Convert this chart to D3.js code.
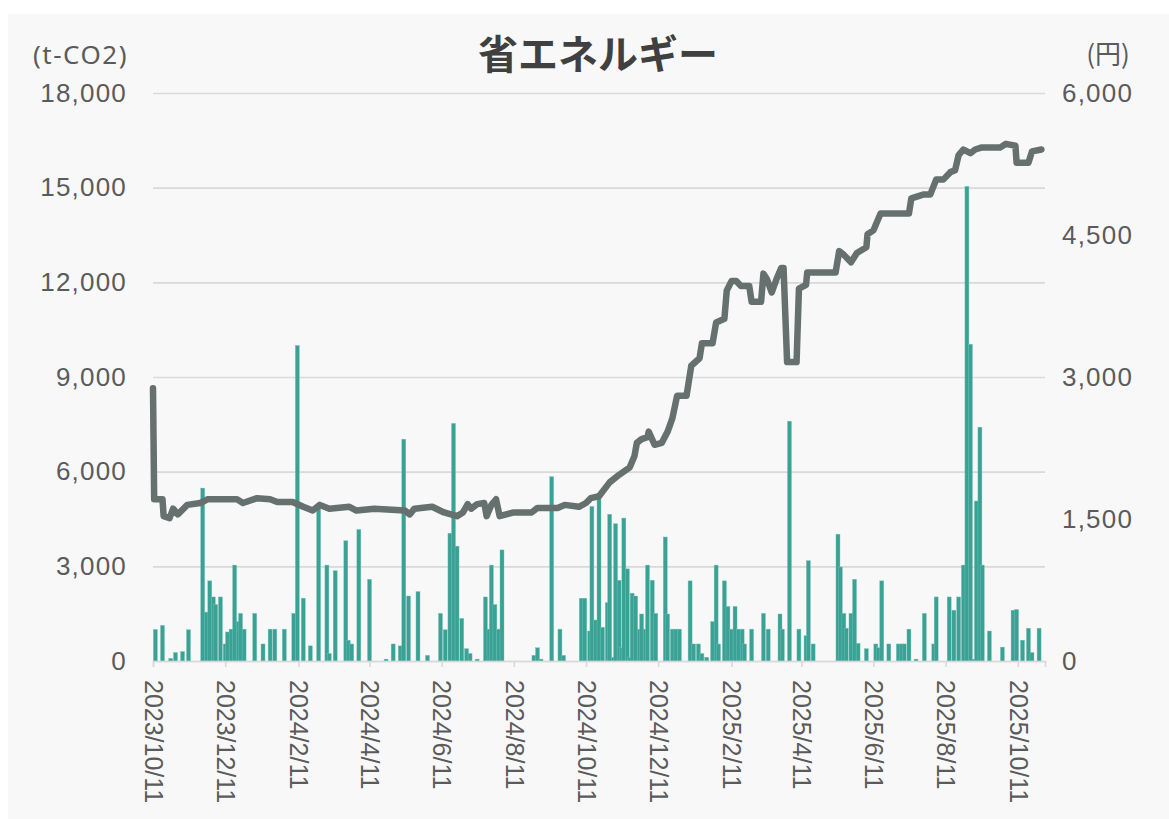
<!DOCTYPE html>
<html>
<head>
<meta charset="utf-8">
<script src="https://cdn.jsdelivr.net/npm/d3@7"></script>
<style>
  body { margin: 0; background: #ffffff; }
  .tick text { fill: #5b5b5b; }
</style>
</head>
<body>
<div class="chart"></div>
<script>
// 省エネルギー chart: daily volume bars (t-CO2, left) + price line (円, right)

var svgWidth = 1169;
var svgHeight = 819;

var margin = { top: 93, right: 124, bottom: 158, left: 153 };
var width = svgWidth - margin.left - margin.right;
var height = svgHeight - margin.top - margin.bottom;

// bar series: dates and volumes (t-CO2)
var barDates = [
  "2023-10-13", "2023-10-19", "2023-10-26", "2023-10-30", "2023-11-05", "2023-11-10",
  "2023-11-22", "2023-11-25", "2023-11-28", "2023-12-01", "2023-12-03", "2023-12-07",
  "2023-12-11", "2023-12-13", "2023-12-16", "2023-12-19", "2023-12-22", "2023-12-24",
  "2023-12-27", "2024-01-05", "2024-01-12", "2024-01-18", "2024-01-22", "2024-01-30",
  "2024-02-07", "2024-02-10", "2024-02-15", "2024-02-21", "2024-02-28", "2024-03-06",
  "2024-03-08", "2024-03-13", "2024-03-22", "2024-03-24", "2024-03-27", "2024-04-02",
  "2024-04-11", "2024-04-25", "2024-05-01", "2024-05-07", "2024-05-10", "2024-05-14",
  "2024-05-22", "2024-05-30", "2024-06-10", "2024-06-14", "2024-06-18", "2024-06-21",
  "2024-06-24", "2024-06-28", "2024-07-02", "2024-07-05", "2024-07-11", "2024-07-18",
  "2024-07-21", "2024-07-23", "2024-07-26", "2024-07-29", "2024-08-01", "2024-08-28",
  "2024-08-31", "2024-09-03", "2024-09-12", "2024-09-19", "2024-09-22", "2024-10-07",
  "2024-10-10", "2024-10-14", "2024-10-16", "2024-10-19", "2024-10-22", "2024-10-25",
  "2024-10-29", "2024-10-31", "2024-11-03", "2024-11-05", "2024-11-08", "2024-11-10",
  "2024-11-12", "2024-11-15", "2024-11-17", "2024-11-19", "2024-11-22", "2024-11-25",
  "2024-11-27", "2024-11-30", "2024-12-02", "2024-12-06", "2024-12-09", "2024-12-17",
  "2024-12-19", "2024-12-23", "2024-12-26", "2024-12-29", "2025-01-07", "2025-01-10",
  "2025-01-14", "2025-01-17", "2025-01-21", "2025-01-26", "2025-01-29", "2025-01-31",
  "2025-02-05", "2025-02-08", "2025-02-11", "2025-02-14", "2025-02-17", "2025-02-20",
  "2025-02-22", "2025-02-28", "2025-03-10", "2025-03-14", "2025-03-24", "2025-03-26",
  "2025-04-01", "2025-04-09", "2025-04-15", "2025-04-17", "2025-04-21", "2025-05-12",
  "2025-05-14", "2025-05-17", "2025-05-19", "2025-05-23", "2025-05-26", "2025-05-29",
  "2025-06-05", "2025-06-13", "2025-06-15", "2025-06-18", "2025-06-24", "2025-07-02",
  "2025-07-05", "2025-07-07", "2025-07-11", "2025-07-17", "2025-07-24", "2025-08-01",
  "2025-08-03", "2025-08-14", "2025-08-18", "2025-08-22", "2025-08-26", "2025-08-29",
  "2025-09-01", "2025-09-04", "2025-09-06", "2025-09-09", "2025-09-11", "2025-09-17",
  "2025-09-28", "2025-10-07", "2025-10-10", "2025-10-15", "2025-10-20", "2025-10-23",
  "2025-10-29"
];
var barValues = [
  1000, 1130, 80, 270, 300, 990,
  5480, 1550, 2540, 2030, 1790, 2030,
  540, 920, 1010, 3040, 1250, 1510,
  1010, 1510, 540, 1010, 1010, 1010,
  1510, 10000, 1990, 480, 4950, 3040,
  240, 2860, 3810, 660, 540, 4170,
  2590, 60, 540, 480, 7030, 2060,
  2200, 180, 1510, 990, 4050, 7530,
  3640, 1350, 390, 240, 60, 2030,
  1010, 3040, 1790, 1010, 3520, 180,
  420, 60, 5840, 1010, 180, 1990,
  1990, 950, 4900, 1300, 5300, 1070,
  1850, 4650, 120, 4350, 2560, 420,
  4530, 2920, 120, 2150, 2060, 1010,
  1490, 1010, 3040, 2560, 1510, 3930,
  1490, 1010, 1010, 1010, 2540, 540,
  540, 240, 120, 1250, 3040, 540,
  2540, 1730, 1010, 1730, 1010, 1010,
  540, 1010, 1510, 1010, 1490, 1010,
  7600, 1010, 800, 3180, 540, 4020,
  2980, 1510, 1040, 1510, 2590, 560,
  390, 540, 420, 2540, 540, 540,
  540, 540, 1010, 60, 1510, 540,
  2030, 2030, 1610, 2030, 3040, 15040,
  10040, 60, 5070, 7410, 3040, 950,
  440, 1610, 1630, 660, 1040, 270,
  1040
];

// line series: dates and price (円)
var lineDates = [
  "2023-10-11", "2023-10-12", "2023-10-19", "2023-10-20", "2023-10-25", "2023-10-28",
  "2023-11-01", "2023-11-09", "2023-11-20", "2023-11-26", "2023-12-21", "2023-12-26",
  "2024-01-07", "2024-01-18", "2024-01-24", "2024-02-06", "2024-02-15", "2024-02-23",
  "2024-02-29", "2024-03-08", "2024-03-25", "2024-03-31", "2024-04-15", "2024-05-11",
  "2024-05-15", "2024-05-19", "2024-06-03", "2024-06-13", "2024-06-24", "2024-06-29",
  "2024-07-03", "2024-07-06", "2024-07-11", "2024-07-17", "2024-07-19", "2024-07-23",
  "2024-07-27", "2024-07-30", "2024-08-11", "2024-08-26", "2024-08-31", "2024-09-17",
  "2024-09-23", "2024-10-05", "2024-10-11", "2024-10-15", "2024-10-22", "2024-10-31",
  "2024-11-08", "2024-11-17", "2024-11-21", "2024-11-23", "2024-11-27", "2024-12-02",
  "2024-12-03", "2024-12-08", "2024-12-14", "2024-12-19", "2024-12-23", "2024-12-27",
  "2025-01-04", "2025-01-08", "2025-01-15", "2025-01-17", "2025-01-26", "2025-01-29",
  "2025-02-05", "2025-02-07", "2025-02-11", "2025-02-15", "2025-02-19", "2025-02-26",
  "2025-02-28", "2025-03-08", "2025-03-10", "2025-03-13", "2025-03-17", "2025-03-21",
  "2025-03-25", "2025-03-27", "2025-03-30", "2025-04-07", "2025-04-09", "2025-04-15",
  "2025-04-16", "2025-05-10", "2025-05-13", "2025-05-17", "2025-05-23", "2025-05-28",
  "2025-06-05", "2025-06-06", "2025-06-11", "2025-06-17", "2025-07-11", "2025-07-13",
  "2025-07-23", "2025-07-29", "2025-08-03", "2025-08-09", "2025-08-15", "2025-08-19",
  "2025-08-22", "2025-08-26", "2025-09-01", "2025-09-05", "2025-09-10", "2025-09-26",
  "2025-10-01", "2025-10-09", "2025-10-10", "2025-10-20", "2025-10-23", "2025-10-31"
];
var lineValues = [
  2880, 1708, 1708, 1530, 1510, 1609,
  1549, 1649, 1669, 1708, 1708, 1669,
  1720, 1708, 1680, 1680, 1629, 1589,
  1649, 1609, 1629, 1589, 1609, 1589,
  1549, 1609, 1629, 1569, 1530, 1569,
  1657, 1609, 1657, 1669, 1530, 1649,
  1708, 1530, 1569, 1569, 1617, 1617,
  1649, 1629, 1669, 1720, 1740, 1887,
  1967, 2046, 2165, 2304, 2344, 2364,
  2423, 2284, 2304, 2423, 2563, 2801,
  2801, 3119, 3198, 3357, 3357, 3576,
  3615, 3913, 4013, 4013, 3961, 3961,
  3794, 3794, 4092, 4032, 3893, 4032,
  4152, 4152, 3158, 3158, 3933, 3973,
  4104, 4104, 4330, 4290, 4211, 4310,
  4370, 4509, 4549, 4728, 4728, 4887,
  4927, 4927, 5085, 5085, 5164, 5184,
  5344, 5403, 5364, 5403, 5423, 5423,
  5463, 5443, 5264, 5264, 5383, 5403
];

// axis ticks
var xTickLabels = [
  "2023/10/11", "2023/12/11", "2024/2/11", "2024/4/11", "2024/6/11", "2024/8/11",
  "2024/10/11", "2024/12/11", "2025/2/11", "2025/4/11", "2025/6/11", "2025/8/11",
  "2025/10/11"
];
var leftTicks = [0, 3000, 6000, 9000, 12000, 15000, 18000];
var rightTicks = [0, 1500, 3000, 4500, 6000];

var parseDate = d3.timeParse("%Y-%m-%d");
var parseTick = d3.timeParse("%Y/%m/%d");
var formatTick = d3.timeFormat("%Y/%-m/%-d");

var bars = barDates.map(function(d, i) {
  return { date: parseDate(d), value: barValues[i] };
});
var line = lineDates.map(function(d, i) {
  return { date: parseDate(d), value: lineValues[i] };
});

var svg = d3.select(".chart")
  .append("svg")
  .attr("width", svgWidth)
  .attr("height", svgHeight)
  .style("font-family", "'Noto Sans', sans-serif");

// light panel behind everything
svg.append("rect")
  .attr("x", 8)
  .attr("y", 14)
  .attr("width", svgWidth - 8)
  .attr("height", svgHeight - 14)
  .attr("fill", "#f8f8f8");

var chart = svg.append("g")
  .attr("transform", "translate(" + margin.left + "," + margin.top + ")");

var xTimeScale = d3.scaleTime()
  .domain([parseDate("2023-10-11"), parseDate("2025-11-03")])
  .range([0, width]);

var yLinearScale1 = d3.scaleLinear()
  .domain([0, 18000])
  .range([height, 0]);

var yLinearScale2 = d3.scaleLinear()
  .domain([0, 6000])
  .range([height, 0]);

// gridlines + left labels
var leftAxis = d3.axisLeft(yLinearScale1)
  .tickValues(leftTicks)
  .tickFormat(d3.format(","))
  .tickSize(-width)
  .tickPadding(26);

var gLeft = chart.append("g").call(leftAxis);
gLeft.select(".domain").remove();
gLeft.selectAll(".tick line")
  .attr("stroke", "#d9d9d9")
  .attr("stroke-width", 1.6);
gLeft.selectAll(".tick text")
  .style("font-size", "26px")
  .style("letter-spacing", "1.2px");

var rightAxis = d3.axisRight(yLinearScale2)
  .tickValues(rightTicks)
  .tickFormat(d3.format(","))
  .tickSize(0)
  .tickPadding(17);

var gRight = chart.append("g")
  .attr("transform", "translate(" + width + ",0)")
  .call(rightAxis);
gRight.select(".domain").remove();
gRight.selectAll(".tick text")
  .style("font-size", "26px")
  .style("letter-spacing", "1.2px");

// bars
chart.selectAll(".bar")
  .data(bars)
  .enter()
  .append("rect")
  .attr("class", "bar")
  .attr("x", function(d) { return xTimeScale(d.date) - 2; })
  .attr("width", 4)
  .attr("y", function(d) { return yLinearScale1(d.value); })
  .attr("height", function(d) { return height - yLinearScale1(d.value); })
  .attr("fill", "#3aa295")
  .attr("stroke", "#7cc4ba")
  .attr("stroke-width", 0.4);

// bottom axis
var bottomAxis = d3.axisBottom(xTimeScale)
  .tickValues(xTickLabels.map(function(t) { return parseTick(t); }))
  .tickFormat(formatTick)
  .tickSize(6);

var gBottom = chart.append("g")
  .attr("transform", "translate(0," + height + ")")
  .call(bottomAxis);
gBottom.select(".domain")
  .attr("stroke", "#d9d9d9")
  .attr("stroke-width", 1.6);
gBottom.selectAll(".tick line")
  .attr("stroke", "#d9d9d9")
  .attr("stroke-width", 1.6);
gBottom.selectAll(".tick text")
  .attr("transform", "rotate(90)")
  .attr("x", 19)
  .attr("y", 0)
  .attr("dy", "0.35em")
  .attr("text-anchor", "start")
  .style("font-size", "25px");

// price line
var lineGen = d3.line()
  .x(function(d) { return xTimeScale(d.date); })
  .y(function(d) { return yLinearScale2(d.value); });

chart.append("path")
  .datum(line)
  .attr("d", lineGen)
  .attr("fill", "none")
  .attr("stroke", "#66706e")
  .attr("stroke-width", 6.5)
  .attr("stroke-linejoin", "round")
  .attr("stroke-linecap", "round");

// title and unit labels
svg.append("text")
  .attr("x", 598)
  .attr("y", 69)
  .attr("text-anchor", "middle")
  .style("font-family", "'Noto Sans CJK JP', sans-serif")
  .style("font-weight", "bold")
  .style("font-size", "40px")
  .attr("fill", "#404040")
  .text("省エネルギー");

svg.append("text")
  .attr("x", 128)
  .attr("y", 64)
  .attr("text-anchor", "end")
  .style("font-size", "26px")
  .style("letter-spacing", "1.5px")
  .attr("fill", "#5b5b5b")
  .text("(t-CO2)");

svg.append("text")
  .attr("x", 1108)
  .attr("y", 64)
  .attr("text-anchor", "middle")
  .style("font-family", "'Noto Sans CJK JP', sans-serif")
  .style("font-size", "26px")
  .attr("fill", "#5b5b5b")
  .text("(円)");
</script>
</body>
</html>
